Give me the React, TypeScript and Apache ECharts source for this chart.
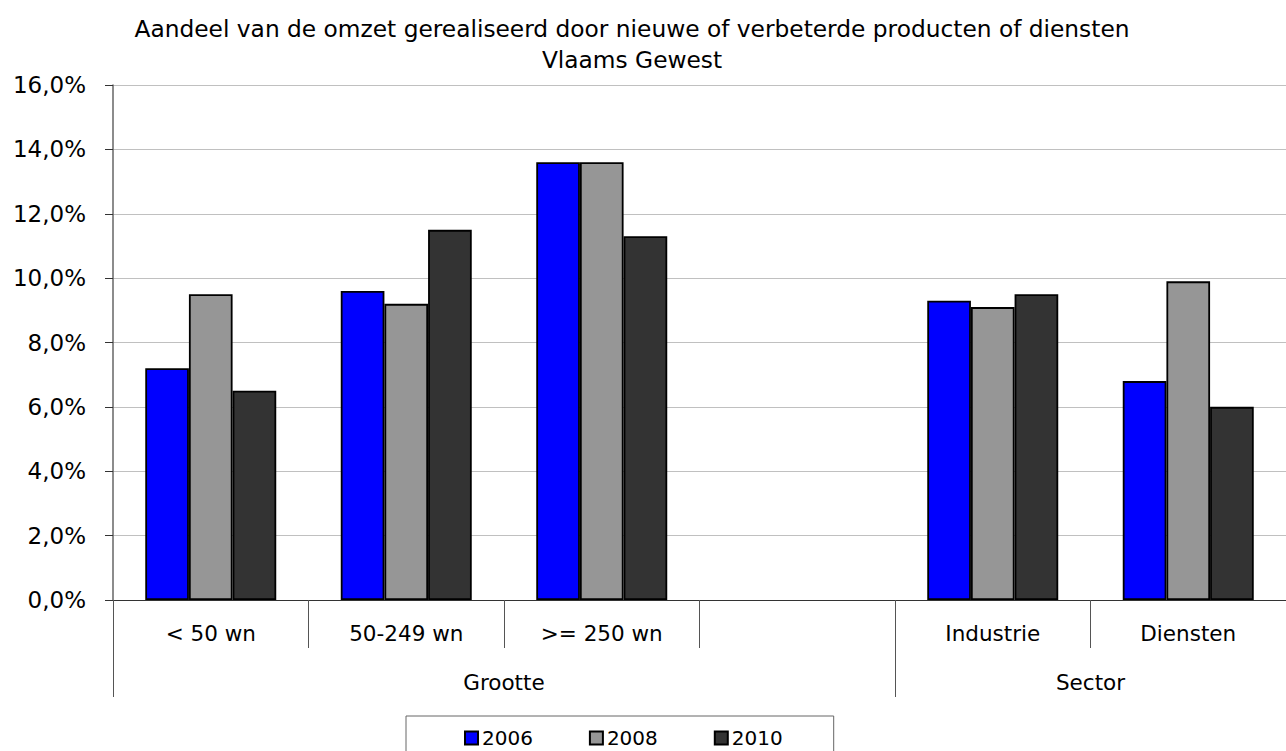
import React, { useEffect, useRef } from "react";
import * as echarts from "echarts";

const titleLines = [
  "Aandeel van de omzet gerealiseerd door nieuwe of verbeterde producten of diensten",
  "Vlaams Gewest",
];
const categories = ["< 50 wn", "50-249 wn", ">= 250 wn", "", "Industrie", "Diensten"];
const groupLabels = ["Grootte", "Sector"];
const groupSpans = [4, 2];
const seriesNames = ["2006", "2008", "2010"];
const values2006 = [7.2, 9.6, 13.6, null, 9.3, 6.8];
const values2008 = [9.5, 9.2, 13.6, null, 9.1, 9.9];
const values2010 = [6.5, 11.5, 11.3, null, 9.5, 6.0];
const seriesColors = ["#0000FF", "#969696", "#333333"];
const yTicks = [0, 2, 4, 6, 8, 10, 12, 14, 16];

const FONT = "DejaVu Sans";

export default function App() {
  const ref = useRef<HTMLDivElement>(null);
  useEffect(() => {
    if (!ref.current) return;
    const chart = echarts.init(ref.current, undefined, { renderer: "svg" });
    const boundaries: number[] = [0];
    const centers: number[] = [];
    groupSpans.forEach((s) => {
      const start = boundaries[boundaries.length - 1];
      centers.push(start + s / 2);
      boundaries.push(start + s);
    });
    const allValues = [values2006, values2008, values2010];
    chart.setOption({
      animation: false,
      textStyle: { fontFamily: FONT, color: "#000" },
      graphic: titleLines.map((t, i) => ({
        type: "text",
        x: 632,
        y: 28 + i * 31,
        style: {
          text: t,
          fontFamily: FONT,
          fontSize: 23.3,
          fill: "#000",
          textAlign: "center",
          textVerticalAlign: "middle",
        },
      })),
      grid: { left: 113, top: 85, right: -9, bottom: 151, containLabel: false },
      legend: {
        left: 406,
        top: 716,
        orient: "horizontal",
        data: seriesNames,
        icon: "rect",
        itemWidth: 13,
        itemHeight: 13,
        itemGap: 56,
        padding: [12, 51, 30, 58],
        borderColor: "#666",
        borderWidth: 1,
        textStyle: { fontFamily: FONT, fontSize: 20, color: "#000", padding: [0, 0, 0, -1] },
      },
      xAxis: [
        {
          type: "category",
          data: categories,
          boundaryGap: true,
          axisLine: { show: true, lineStyle: { color: "#333", width: 1 } },
          axisTick: { show: true, length: 48, lineStyle: { color: "#555", width: 1 } },
          axisLabel: { fontFamily: FONT, fontSize: 21.5, color: "#000", margin: 22, interval: 0 },
          splitLine: { show: false },
        },
        {
          type: "value",
          min: 0,
          max: categories.length,
          position: "bottom",
          axisLine: { show: false },
          splitLine: { show: false },
          axisTick: {
            show: true,
            customValues: boundaries,
            length: 97,
            lineStyle: { color: "#555", width: 1 },
          },
          axisLabel: {
            show: true,
            customValues: centers,
            margin: 71,
            fontFamily: FONT,
            fontSize: 21.5,
            color: "#000",
            formatter: (v: number) => {
              const idx = centers.indexOf(v);
              return idx >= 0 ? groupLabels[idx] : "";
            },
          },
        },
      ],
      yAxis: {
        type: "value",
        min: 0,
        max: 16,
        interval: 2,
        axisLine: { show: true, lineStyle: { color: "#666", width: 1.5 } },
        axisTick: { show: true, inside: false, length: 8, lineStyle: { color: "#333" } },
        axisLabel: {
          fontFamily: FONT,
          fontSize: 23,
          color: "#000",
          margin: 27,
          customValues: yTicks,
          formatter: (v: number) => v.toFixed(1).replace(".", ",") + "%",
        },
        splitLine: { show: true, lineStyle: { color: "#c0c0c0", width: 1 } },
      },
      series: seriesNames.map((name, i) => ({
        name,
        type: "bar",
        data: allValues[i],
        barGap: "0%",
        barCategoryGap: "33%",
        itemStyle: { color: seriesColors[i], borderColor: "#000", borderWidth: 1.8 },
        emphasis: { disabled: true },
      })),
    });
    return () => chart.dispose();
  }, []);
  return (
    <div
      ref={ref}
      style={{ position: "absolute", left: 0, top: 0, width: 1286, height: 751, background: "#fff" }}
    />
  );
}
